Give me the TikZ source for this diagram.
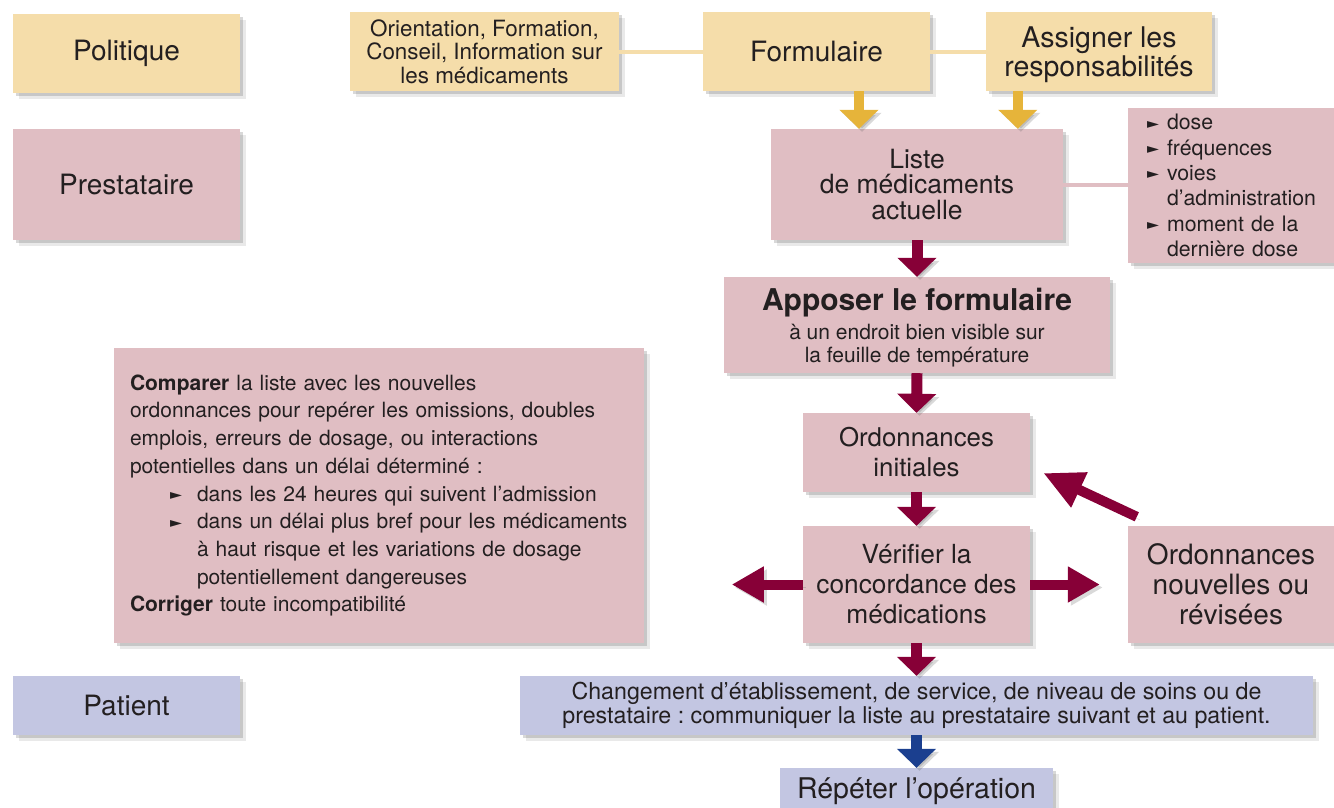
\documentclass[tikz,border=0pt]{standalone}
\usepackage{fontspec}
\setmainfont{TeX Gyre Heros}
\newfontfamily\symf{DejaVu Sans}
\usepackage{graphicx}
\usetikzlibrary{arrows.meta,shadows,calc}
\definecolor{yel}{HTML}{F5DDAA}
\definecolor{pnk}{HTML}{E0BEC3}
\definecolor{blu}{HTML}{C3C6E2}
\definecolor{yarr}{HTML}{E6B43A}
\definecolor{marr}{HTML}{870037}
\definecolor{barr}{HTML}{1B3F8F}
\definecolor{txt}{HTML}{231F20}
\newcommand\tri{\raisebox{1.5pt}{\resizebox{12pt}{7pt}{\symf\char"25BA}}}
\newcommand\fs[2]{\fontsize{#1}{#2}\selectfont}
\frenchspacing
\begin{document}
\begin{tikzpicture}[x=1pt,y=-1pt,
  sh/.style={drop shadow={shadow xshift=3pt,shadow yshift=-3pt,opacity=.22,fill=black!70},
             drop shadow={shadow xshift=6pt,shadow yshift=-6pt,opacity=.12,fill=black!70}},
  bx/.style={draw=none, text=txt, align=center, inner sep=0pt, sh},
  ybox/.style={bx, fill=yel},
  pbox/.style={bx, fill=pnk},
  bbox/.style={bx, fill=blu},
  sz/.style 2 args={minimum width=#1pt, minimum height=#2pt},
  ashadow/.style={preaction={draw=black!60, opacity=.25, transform canvas={shift={(3pt,-3pt)}}}},
  yarrow/.style={ashadow, draw=yarr, line width=10pt, -{Triangle[width=38pt,length=19pt]}},
  marrow/.style={ashadow, draw=marr, line width=11pt, -{Triangle[width=38pt,length=19pt]}},
  harrow/.style={ashadow, draw=marr, line width=10pt, -{Triangle[width=34pt,length=32pt]}},
  darrow/.style={ashadow, draw=marr, line width=10pt, -{Triangle[width=36pt,length=40pt]}},
  barrow/.style={ashadow, draw=barr, line width=11pt, -{Triangle[width=38pt,length=19pt]}},
  yline/.style={draw=yel, line width=4pt},
  pline/.style={draw=pnk, line width=4pt}
]
\useasboundingbox (0,0) rectangle (1334,807);

% row labels
\node[ybox, sz={227}{79}, font=\fs{28}{30}] (pol) at (126.5,53.5) {Politique};
\node[pbox, sz={227}{111}, font=\fs{28}{30}] (pres) at (126.5,184.5) {Prestataire};
\node[bbox, sz={227}{59}, font=\fs{28}{30}] (pat) at (126.5,705.5) {Patient};

% top row
\node[ybox, sz={269}{79}, font=\fs{22.4}{23.5}] (orient) at (484.5,51.5) {Orientation, Formation,\\Conseil, Information sur\\les médicaments};
\node[ybox, sz={227}{79}, font=\fs{28}{29}] (form) at (816.5,51.5) {Formulaire};
\node[ybox, sz={226}{79}, font=\fs{28.5}{29}, text depth=-4pt] (assign) at (1099,51.5) {Assigner les\\responsabilités};
\draw[yline] (orient.east) -- (form.west);
\draw[yline] (form.east) -- (assign.west);

% list
\node[pbox, sz={292}{111}, font=\fs{26.5}{25.5}] (liste) at (917,184.5) {Liste\\de médicaments\\actuelle};
\node[pbox, sz={206}{155}, font=\fs{21.3}{25.3}, text width=168pt, inner xsep=19pt, align=left] (doses) at (1231,185.5)
  {\tri\hspace{8pt}dose\\\tri\hspace{8pt}fréquences\\\tri\hspace{8pt}voies\\\hspace*{20pt}d’administration\\\tri\hspace{8pt}moment de la\\\hspace*{20pt}dernière dose};
\draw[pline] (liste.east) -- (liste.east -| doses.west);

\coordinate (ya1) at ([xshift=42.5pt]form.south);
\coordinate (ya2) at ([xshift=32pt]assign.south west);
\draw[yarrow] (ya1) -- (ya1 |- liste.north);
\draw[yarrow] (ya2) -- (ya2 |- liste.north);

% main column
\node[pbox, sz={386}{96}, font=\fs{21}{23}, text depth=-2pt] (apposer) at (917,325)
  {{\bfseries\fs{30}{30}Apposer le formulaire}\\[6pt]à un endroit bien visible sur\\la feuille de température};
\node[pbox, sz={227}{79}, font=\fs{25.8}{30}] (ordinit) at (916.5,452.5) {Ordonnances\\initiales};
\node[pbox, sz={227}{117}, font=\fs{26.3}{30}] (verif) at (916.5,584.5) {Vérifier la\\concordance des\\médications};
\node[pbox, sz={206}{117}, font=\fs{28}{30}] (nouv) at (1231,584.5) {Ordonnances\\nouvelles ou\\révisées};

\node[pbox, sz={530}{295}, text width=498pt, inner xsep=16pt, align=left, font=\fs{21}{27.7}] (compare) at (379,495.5)
  {\textbf{Comparer} la liste avec les nouvelles\\
   \mbox{ordonnances pour repérer les omissions, doubles}\\
   emplois, erreurs de dosage, ou interactions\\
   potentielles dans un délai déterminé :\\
   \hspace*{40pt}\tri\hspace{15pt}\mbox{dans les 24 heures qui suivent l’admission}\\
   \hspace*{40pt}\tri\hspace{15pt}\mbox{dans un délai plus bref pour les médicaments}\\
   \hspace*{67pt}\mbox{à haut risque et les variations de dosage}\\
   \hspace*{67pt}potentiellement dangereuses\\
   \textbf{Corriger} toute incompatibilité};

\node[bbox, sz={793}{59}, font=\fs{23.2}{24}] (change) at (916.5,705.5)
  {Changement d’établissement, de service, de niveau de soins ou de\\prestataire : communiquer la liste au prestataire suivant et au patient.};
\node[bbox, sz={273}{46}, font=\fs{28.5}{30}] (repeter) at (916.5,791) {Répéter l’opération};

% arrows
\draw[marrow] (liste.south) -- (apposer.north);
\draw[marrow] (apposer.south) -- (ordinit.north);
\draw[marrow] (ordinit.south) -- (verif.north);
\coordinate (lefttip) at ([xshift=-71pt]verif.west);
\draw[harrow] (verif.west) -- (lefttip);
\draw[harrow, shorten >=28pt] (verif.east) -- (verif.east -| nouv.west);
\coordinate (dstart) at ($(nouv.north west)+(9,-9)$);
\coordinate (dend) at ($(ordinit.east)+(13,20.5)$);
\draw[darrow] (dstart) -- (dend);
\draw[marrow] (verif.south) -- (change.north);
\draw[barrow] (change.south) -- (repeter.north);
\end{tikzpicture}
\end{document}
